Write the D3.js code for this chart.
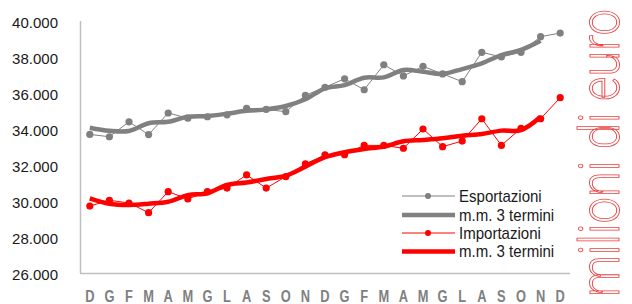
<!DOCTYPE html>
<html>
<head>
<meta charset="utf-8">
<script src="https://cdn.jsdelivr.net/npm/d3@7"></script>
<style>
  body { margin: 0; background: #fff; }
  svg { display: block; }
</style>
</head>
<body>
<script>
"use strict";

var mesi = ["D","G","F","M","A","M","G","L","A","S","O","N","D","G","F","M","A","M","G","L","A","S","O","N","D"];

// milioni di euro
var esportazioni = [33700, 33570, 34400, 33690, 34890, 34600, 34680, 34790, 35150, 35090, 34960, 35870, 36320, 36790, 36180, 37570, 36950, 37480, 37060, 36630, 38260, 38000, 38260, 39130, 39330];
var mmEsport = [34070, 33900, 33890, 34320, 34400, 34680, 34720, 34850, 35010, 35090, 35280, 35650, 36260, 36440, 36850, 36870, 37280, 37180, 37060, 37330, 37650, 38110, 38390, 38900];
var importazioni = [29720, 30040, 29890, 29350, 30520, 30110, 30520, 30720, 31450, 30720, 31350, 32060, 32560, 32570, 33090, 33090, 32930, 34000, 33020, 33330, 34570, 33090, 34040, 34570, 35740];
var mmImport = [30150, 29850, 29780, 29850, 29960, 30320, 30430, 30890, 31030, 31220, 31410, 31910, 32430, 32710, 32890, 33020, 33320, 33390, 33480, 33630, 33720, 33910, 33940, 34680];

var yTicks = [26000, 28000, 30000, 32000, 34000, 36000, 38000, 40000];

var width = 632,
    height = 304;

var svg = d3.select("body")
            .append("svg")
            .attr("width", width)
            .attr("height", height);

var x = d3.scaleBand()
    .domain(d3.range(mesi.length))
    .range([80, 570]);

var y = d3.scaleLinear()
    .domain([26000, 40000])
    .range([273, 21]);

var it = d3.formatLocale({decimal: ",", thousands: ".", grouping: [3], currency: ["", "€"]});
var fmt = it.format(",.0f");

function cx(d, i){ return x(i) + x.bandwidth()/2; }

// assi
svg.append("line")
    .attr("x1", 80.5).attr("x2", 80.5)
    .attr("y1", 21).attr("y2", 273)
    .style("stroke", "#bfbfbf").style("stroke-width", 1.5);
svg.append("line")
    .attr("x1", 80).attr("x2", 570)
    .attr("y1", 273.5).attr("y2", 273.5)
    .style("stroke", "#bfbfbf").style("stroke-width", 1.5);

svg.append("g")
    .selectAll("text")
    .data(yTicks)
    .enter().append("text")
        .attr("x", 58)
        .attr("y", function(d){ return y(d) + 7; })
        .attr("text-anchor", "end")
        .style("font-family", "Liberation Sans, Arial, sans-serif")
        .style("font-size", "15px")
        .style("fill", "#1a1a1a")
        .text(fmt);

svg.append("g")
    .selectAll("text")
    .data(mesi)
    .enter().append("text")
        .attr("transform", function(d, i){ return "translate(" + cx(d, i) + ",302) scale(0.78,1)"; })
        .attr("text-anchor", "middle")
        .style("font-family", "Liberation Sans, Arial, sans-serif")
        .style("font-size", "16.5px")
        .style("font-weight", "bold")
        .style("fill", "#808080")
        .text(function(d){ return d; });

var thin = d3.line()
    .x(cx)
    .y(function(d){ return y(d); });

var smooth = d3.line()
    .x(cx)
    .y(function(d){ return y(d); })
    .curve(d3.curveCatmullRom.alpha(0.5));

function serie(dati, mm, colore){
  svg.append("path")
      .attr("d", thin(dati))
      .attr("fill", "none")
      .style("stroke", colore)
      .style("stroke-width", 1);

  svg.append("path")
      .attr("d", smooth(mm))
      .attr("fill", "none")
      .style("stroke", colore)
      .style("stroke-width", 4.5)
      .style("stroke-linejoin", "round");

  svg.append("g")
      .selectAll("circle")
      .data(dati)
      .enter().append("circle")
          .attr("cx", cx)
          .attr("cy", function(d){ return y(d); })
          .attr("r", 3.6)
          .style("fill", colore);
}

serie(esportazioni, mmEsport, "#808080");
serie(importazioni, mmImport, "#ff0000");

// legenda
var legenda = [
  {nome: "Esportazioni", colore: "#808080", w: 1, punto: true, y: 196},
  {nome: "m.m. 3 termini", colore: "#808080", w: 4.5, punto: false, y: 215},
  {nome: "Importazioni", colore: "#ff0000", w: 1, punto: true, y: 233},
  {nome: "m.m. 3 termini", colore: "#ff0000", w: 4.5, punto: false, y: 251.5}
];

var leg = svg.append("g")
    .selectAll("g")
    .data(legenda)
    .enter().append("g")
        .attr("transform", function(d){ return "translate(0," + d.y + ")"; });

leg.append("line")
    .attr("x1", 402).attr("x2", 455)
    .style("stroke", function(d){ return d.colore; })
    .style("stroke-width", function(d){ return d.w; });

leg.filter(function(d){ return d.punto; })
    .append("circle")
    .attr("cx", 428)
    .attr("r", 3)
    .style("fill", function(d){ return d.colore; });

leg.append("text")
    .attr("transform", "translate(459,5.5) scale(0.94,1)")
    .style("font-family", "Liberation Sans, Arial, sans-serif")
    .style("font-size", "16px")
    .style("fill", "#1a1a1a")
    .text(function(d){ return d.nome; });

// unità di misura
var unita = svg.append("text")
    .attr("text-anchor", "middle")
    .style("font-family", "Roboto, Liberation Sans, sans-serif")
    .style("font-weight", 300)
    .style("font-size", "56px")
    .style("fill", "#fff")
    .style("stroke", "#e8413f")
    .text("milioni di euro");

var lung = unita.node().getComputedTextLength();
var k = Math.min(1, 288 / lung);
unita
    .attr("transform", "translate(619,153) rotate(-90) scale(" + k + ",1)")
    .style("stroke-width", 0.9);
</script>
</body>
</html>
